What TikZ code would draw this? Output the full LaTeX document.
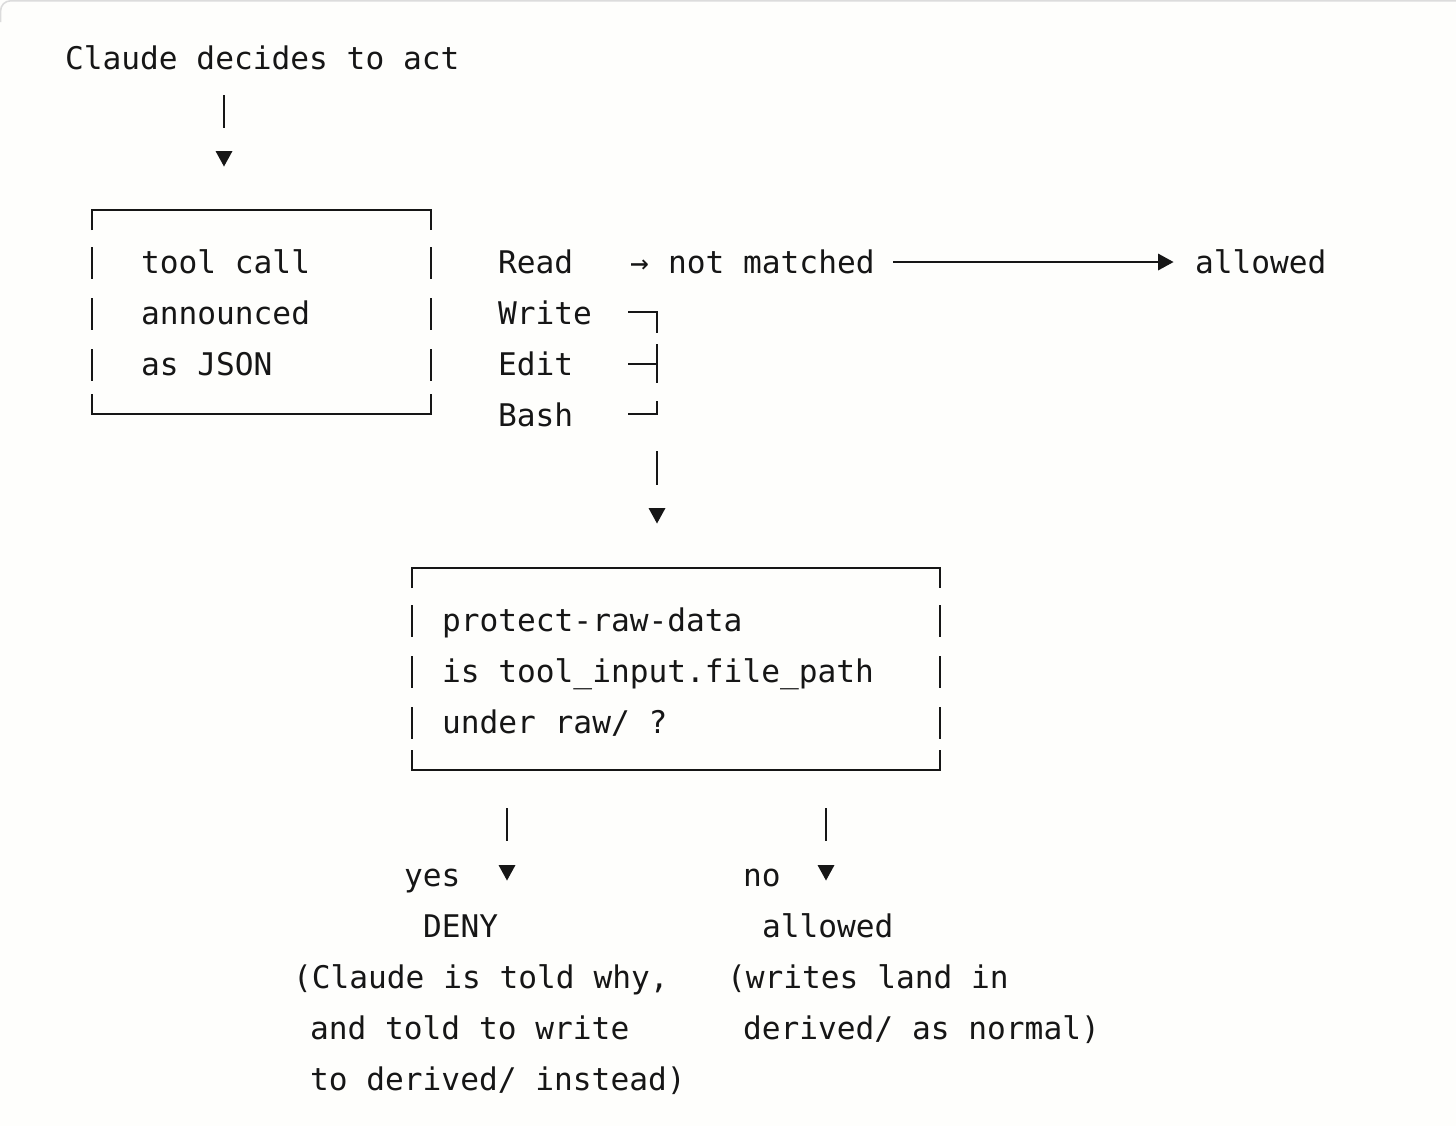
\documentclass[tikz,border=0pt]{standalone}
\usepackage{fontspec}
\newfontfamily\monofont{DejaVu Sans Mono}
\definecolor{ink}{HTML}{161616}
\definecolor{bg}{HTML}{FEFEFC}
\definecolor{edge}{HTML}{DCDCDC}
\tikzset{
  txt/.style={anchor=base west,inner sep=0pt,outer sep=0pt,text=ink,
    font=\monofont\fontsize{15.6}{18}\selectfont},
  wire/.style={draw=ink,line width=1pt},
  downtip/.pic={\fill[ink] (-8.5,0) -- (8.5,0) -- (0,15.5) -- cycle;},
  righttip/.pic={\fill[ink] (0,-8.5) -- (15.5,0) -- (0,8.5) -- cycle;}
}
\begin{document}
\begin{tikzpicture}[x=0.5pt,y=-0.5pt]
\useasboundingbox (0,0) rectangle (1456,1126);
\fill[bg] (0,0) rectangle (1456,1126);
\draw[edge,line width=0.8pt,rounded corners=5pt] (0.6,22) -- (0.6,0.8) -- (1456,0.8);

% ---------- texts ----------
\node[txt] (start) at (65,69) {Claude decides to act};
\node[txt] (t1) at (141,273) {tool call};
\node[txt] (t2) at (141,324) {announced};
\node[txt] (t3) at (141,375) {as JSON};
\node[txt] (read) at (498,273) {Read};
\node[txt] (rarrow) at (630,273) {→};
\node[txt] (nm) at (668,273) {not matched};
\node[txt] (allow1) at (1195,273) {allowed};
\node[txt] (write) at (498,324) {Write};
\node[txt] (edit) at (498,375) {Edit};
\node[txt] (bash) at (498,426) {Bash};
\node[txt] (p1) at (442,631) {protect-raw-data};
\node[txt] (p2) at (442,682) {is tool\_input.file\_path};
\node[txt] (p3) at (442,733) {under raw/ ?};
\node[txt] (yes) at (404,886) {yes};
\node[txt] (no) at (743,886) {no};
\node[txt] (deny) at (423,937) {DENY};
\node[txt] (allow2) at (762,937) {allowed};
\node[txt] (d1) at (293,988) {(Claude is told why,};
\node[txt] (d2) at (310,1039) {and told to write};
\node[txt] (d3) at (310,1090) {to derived/ instead)};
\node[txt] (a1) at (727,988) {(writes land in};
\node[txt] (a2) at (743,1039) {derived/ as normal)};

% ---------- start connector ----------
\coordinate (s1) at (224,95);
\coordinate (s2) at (224,128);
\draw[wire] (s1) -- (s2);
\pic at (224,151) {downtip};

% ---------- box 1 ----------
\coordinate (b1tl) at (92,210);
\coordinate (b1tr) at (431,210);
\coordinate (b1bl) at (92,414);
\coordinate (b1br) at (431,414);
\draw[wire] (92,230) -- (b1tl) -- (b1tr) -- (431,230);
\draw[wire] (92,394) -- (b1bl) -- (b1br) -- (431,394);
\foreach \r in {273,324,375}{
  \draw[wire] (92,\r-26) -- (92,\r+6);
  \draw[wire] (431,\r-26) -- (431,\r+6);
}

% ---------- not matched arrow ----------
\coordinate (nmA) at (893,262);
\coordinate (nmB) at (1160,262);
\draw[wire] (nmA) -- (nmB);
\pic at (1158,262) {righttip};

% ---------- bracket ----------
\draw[wire] (628,312) -- (657,312) -- (657,333);
\draw[wire] (657,344) -- (657,383);
\draw[wire] (628,364) -- (657,364);
\draw[wire] (628,414) -- (657,414) -- (657,401);
\coordinate (m1) at (657,451);
\coordinate (m2) at (657,485);
\draw[wire] (m1) -- (m2);
\pic at (657,508) {downtip};

% ---------- box 2 ----------
\coordinate (b2tl) at (412,568);
\coordinate (b2tr) at (940,568);
\coordinate (b2bl) at (412,770);
\coordinate (b2br) at (940,770);
\draw[wire] (412,588) -- (b2tl) -- (b2tr) -- (940,588);
\draw[wire] (412,750) -- (b2bl) -- (b2br) -- (940,750);
\foreach \r in {631,682,733}{
  \draw[wire] (412,\r-26) -- (412,\r+6);
  \draw[wire] (940,\r-26) -- (940,\r+6);
}

% ---------- yes / no connectors ----------
\coordinate (y1) at (507,808);
\coordinate (y2) at (507,841);
\coordinate (n1) at (826,808);
\coordinate (n2) at (826,841);
\draw[wire] (y1) -- (y2);
\draw[wire] (n1) -- (n2);
\pic at (507,865) {downtip};
\pic at (826,865) {downtip};
\end{tikzpicture}
\end{document}
